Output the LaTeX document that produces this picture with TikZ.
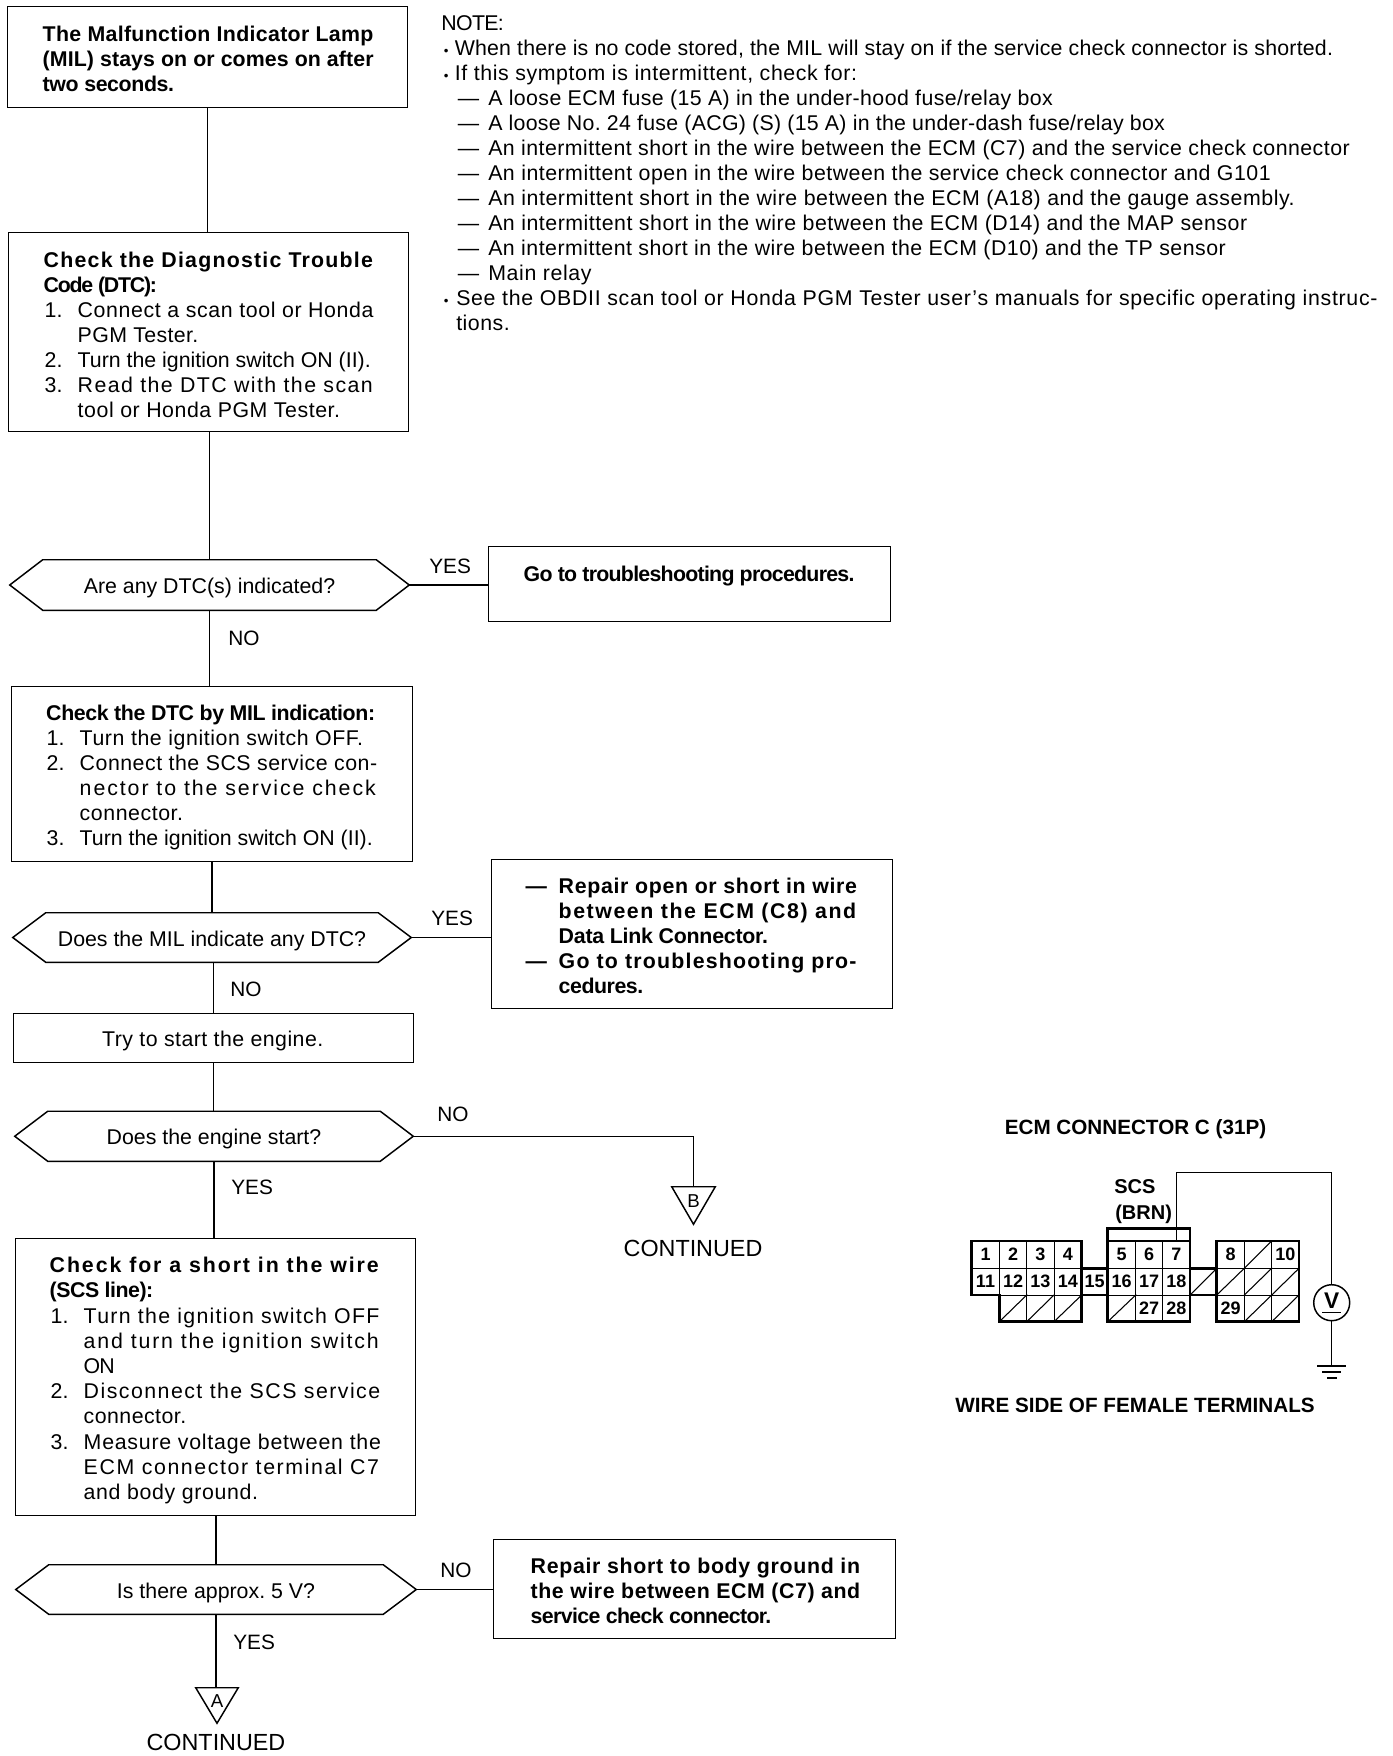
\documentclass[tikz,border=0pt]{standalone}
\usepackage{fontspec}
\setmainfont{Liberation Sans}
\usetikzlibrary{calc}
\newsavebox{\FitB}
\newcount\FitN
\newdimen\FitD
\newdimen\TOrgX
\ExplSyntaxOn
\newcommand{\SetFitN}[1]{\FitN=\tl_count:n{#1}\relax}
\ExplSyntaxOff
\newcommand{\pxd}[1]{\dimexpr #1pt*3/4\relax}
% set #2 to exactly the width #1 (px) by letter spacing
\newcommand{\FitText}[2]{%
  \sbox{\FitB}{#2}%
  \SetFitN{#2}%
  \FitD=\dimexpr(\pxd{#1}-\wd\FitB)/\FitN\relax
  \pgfmathsetmacro{\FitLS}{100*\the\FitD/16}%
  \edef\FitDo{\noexpand\addfontfeature{LetterSpace=\FitLS}}%
  {\FitDo #2}}
% plain fitted line: left, right, text
\newcommand{\Fl}[3]{\moveright\dimexpr\pxd{#1}-\TOrgX\relax\hbox{\strut\pgfmathsetmacro{\FitW}{#2-#1}\FitText{\FitW}{#3}}}
% line with number or dash: mark x, mark, left, right, text
\newcommand{\Fn}[5]{\moveright\dimexpr\pxd{#1}-\TOrgX\relax\hbox{\strut\pgfmathsetmacro{\MarkW}{#3-#1}\hbox to \pxd{\MarkW}{#2\hss}\pgfmathsetmacro{\FitW}{#4-#3}\FitText{\FitW}{#5}}}
\newcommand{\Dot}{{\fontsize{10}{10}\selectfont •}}
% box contents: origin x, width, height, first baseline below top (px), lines
\newcommand{\Inbox}[5]{\parbox[c][\pxd{#3}][t]{\pxd{#2}}{\TOrgX=\pxd{#1}\fontsize{16}{18.75}\selectfont\frenchspacing\hrule height 0pt width \hsize\vspace*{\dimexpr\pxd{#4}-13.125pt\relax}#5}}
\tikzset{
  outline/.style={draw=black,line width=1.1pt,line join=miter},
  flowbox/.style={outline,anchor=north west,inner sep=0pt},
  noteblk/.style={anchor=north west,inner sep=0pt},
  wire/.style={draw=black,line width=1.1pt},
  hexlabel/.style={inner sep=0pt,font=\fontsize{16}{18.75}\selectfont\frenchspacing,text height=12.8pt,text depth=0pt},
  trilabel/.style={inner sep=0pt,font=\fontsize{14}{18}\selectfont,text height=11pt,text depth=8pt},
  lab/.style={inner sep=0pt,anchor=base west,font=\fontsize{15.6}{18}\selectfont},
  contlab/.style={inner sep=0pt,anchor=base,font=\fontsize{17.5}{20}\selectfont},
  conttitle/.style={inner sep=0pt,anchor=base,font=\bfseries\fontsize{15.5}{18}\selectfont},
  scslab/.style={inner sep=0pt,anchor=base west,font=\bfseries\fontsize{15}{18}\selectfont},
  cell/.style={draw=black,line width=0.7pt,inner sep=0pt,font=\bfseries\fontsize{13.5}{15}\selectfont,text height=10pt,text depth=0.5pt},
  thickout/.style={draw=black,line width=1.9pt,line join=miter},
  hatch/.style={draw=black,line width=0.8pt},
  meter/.style={circle,draw=black,line width=1.1pt,inner sep=0pt,minimum size=27pt,font=\bfseries\fontsize{17}{20}\selectfont,text height=12pt,text depth=4pt},
}
\newcommand{\RHex}[6]{%
  \node[hexlabel,minimum width={(#3-#2)*0.75pt},minimum height={(#5-#4)*0.75pt}] (#1) at ({(#2+#3)/2},{(#4+#5)/2}) {#6};
  \draw[outline] (#1.west) -- ([xshift=24.75pt]#1.north west) -- ([xshift=-24.75pt]#1.north east) -- (#1.east) -- ([xshift=-24.75pt]#1.south east) -- ([xshift=24.75pt]#1.south west) -- cycle;}
\newcommand{\RTri}[5]{%
  \node[trilabel,minimum width={#4*0.75pt},minimum height={#5*0.75pt}] (#1) at (#2) {#3};
  \draw[outline] (#1.north west) -- (#1.north east) -- (#1.south) -- cycle;}
\begin{document}
\begin{tikzpicture}[x=0.75pt,y=-0.75pt]
\useasboundingbox (0,0) rectangle (1392,1756);
% ---- flow boxes
\node[flowbox] (b1) at (7,6) {\Inbox{7}{400}{101}{35}{\bfseries
  \Fl{42}{373}{The Malfunction Indicator Lamp}
  \Fl{42}{373}{(MIL) stays on or comes on after}
  \Fl{42}{173}{two seconds.}}};
\node[flowbox] (b2) at (8,232) {\Inbox{8}{400}{199}{35}{%
  {\bfseries\Fl{43}{373.5}{Check the Diagnostic Trouble}
  \Fl{43}{155}{Code (DTC):}}
  \Fn{44}{1.}{77}{373.5}{Connect a scan tool or Honda}
  \Fl{77}{198}{PGM Tester.}
  \Fn{44}{2.}{77}{370}{Turn the ignition switch ON (II).}
  \Fn{44}{3.}{77}{373.5}{Read the DTC with the scan}
  \Fl{77}{340}{tool or Honda PGM Tester.}}};
\node[flowbox] (b3) at (11,686) {\Inbox{11}{401}{175}{34}{%
  {\bfseries\Fl{45.5}{374}{Check the DTC by MIL indication:}}
  \Fn{46}{1.}{79}{363}{Turn the ignition switch OFF.}
  \Fn{46}{2.}{79}{377}{Connect the SCS service con-}
  \Fl{79}{377}{nector to the service check}
  \Fl{79}{183}{connector.}
  \Fn{46}{3.}{79}{372}{Turn the ignition switch ON (II).}}};
\node[flowbox] (b4) at (13,1013) {\Inbox{13}{400}{49}{33}{%
  \Fl{101.5}{323}{Try to start the engine.}}};
\node[flowbox] (b5) at (15,1238) {\Inbox{15}{400}{276.5}{34}{\baselineskip=18.9pt
  {\bfseries\Fl{49}{380}{Check for a short in the wire}
  \Fl{49}{152}{(SCS line):}}
  \Fn{50}{1.}{83}{380}{Turn the ignition switch OFF}
  \Fl{83}{380}{and turn the ignition switch}
  \Fl{83}{113}{ON}
  \Fn{50}{2.}{83}{381}{Disconnect the SCS service}
  \Fl{83}{186}{connector.}
  \Fn{50}{3.}{83}{381}{Measure voltage between the}
  \Fl{83}{380}{ECM connector terminal C7}
  \Fl{83}{258}{and body ground.}}};
\node[flowbox] (y1) at (488,546) {\Inbox{488}{402}{75}{35}{\bfseries
  \Fl{523}{853}{Go to troubleshooting procedures.}}};
\node[flowbox] (y2) at (491,859) {\Inbox{491}{401}{149}{34}{\bfseries
  \Fn{525}{—}{558}{857}{Repair open or short in wire}
  \Fl{558}{857}{between the ECM (C8) and}
  \Fl{558}{767}{Data Link Connector.}
  \Fn{525}{—}{558}{857}{Go to troubleshooting pro-}
  \Fl{558}{642}{cedures.}}};
\node[flowbox] (y3) at (493,1539) {\Inbox{493}{402}{99}{34}{\bfseries
  \Fl{530}{860}{Repair short to body ground in}
  \Fl{530}{860}{the wire between ECM (C7) and}
  \Fl{530}{770}{service check connector.}}};
% ---- decisions
\RHex{d1}{10}{409}{560}{610}{Are any DTC(s) indicated?}
\RHex{d2}{13}{411}{913}{962}{Does the MIL indicate any DTC?}
\RHex{d3}{15}{413}{1111.5}{1161}{Does the engine start?}
\RHex{d4}{16}{416}{1565}{1614}{Is there approx. 5 V?}
% ---- off-page marks
\RTri{tA}{217,1705.5}{A}{42}{35}
\RTri{tB}{693.5,1205.5}{B}{43}{37}
\node[contlab] (cA) at (216,1750) {CONTINUED};
\node[contlab] (cB) at (693,1256) {CONTINUED};
% ---- connectors
\draw[wire] (b1.south) -- (b1.south |- b2.north);
\draw[wire] (d1.north) -- (d1.north |- b2.south);
\draw[wire] (d1.south) -- (d1.south |- b3.north);
\draw[wire] (d2.north) -- (d2.north |- b3.south);
\draw[wire] (b4.north) -- (b4.north |- d2.south);
\draw[wire] (b4.south) -- (b4.south |- d3.north);
\draw[wire] (d3.south) -- (d3.south |- b5.north);
\draw[wire] (d4.north) -- (d4.north |- b5.south);
\draw[wire] (d4.south) -- (d4.south |- tA.north);
\draw[wire] (d1.east) -- (d1.east -| y1.west);
\draw[wire] (d2.east) -- (d2.east -| y2.west);
\draw[wire] (d4.east) -- (d4.east -| y3.west);
\draw[wire] (d3.east) -| (tB.north);
% ---- branch labels
\node[lab] (l1) at (429,573) {YES};
\node[lab] (l2) at (228,645) {NO};
\node[lab] (l3) at (431,925) {YES};
\node[lab] (l4) at (230,996) {NO};
\node[lab] (l5) at (437,1121) {NO};
\node[lab] (l6) at (231,1194) {YES};
\node[lab] (l7) at (440,1577) {NO};
\node[lab] (l8) at (233,1649) {YES};
% ---- note
\node[noteblk] (note) at (430,0) {\Inbox{430}{960}{345}{30}{%
  \Fl{441}{503}{NOTE:}
  \Fn{443.5}{\Dot}{454.5}{1333}{When there is no code stored, the MIL will stay on if the service check connector is shorted.}
  \Fn{443.5}{\Dot}{454.5}{857.4}{If this symptom is intermittent, check for:}
  \Fn{457.5}{—}{488}{1053}{A loose ECM fuse (15 A) in the under-hood fuse/relay box}
  \Fn{457.5}{—}{488}{1165}{A loose No. 24 fuse (ACG) (S) (15 A) in the under-dash fuse/relay box}
  \Fn{457.5}{—}{488}{1350}{An intermittent short in the wire between the ECM (C7) and the service check connector}
  \Fn{457.5}{—}{488}{1271}{An intermittent open in the wire between the service check connector and G101}
  \Fn{457.5}{—}{488}{1295}{An intermittent short in the wire between the ECM (A18) and the gauge assembly.}
  \Fn{457.5}{—}{488}{1247.5}{An intermittent short in the wire between the ECM (D14) and the MAP sensor}
  \Fn{457.5}{—}{488}{1226}{An intermittent short in the wire between the ECM (D10) and the TP sensor}
  \Fn{457.5}{—}{488}{592}{Main relay}
  \Fn{443.5}{\Dot}{456}{1378}{See the OBDII scan tool or Honda PGM Tester user’s manuals for specific operating instruc-}
  \Fl{456}{510}{tions.}}};
% ---- connector figure
\node[conttitle] (ct) at (1135.5,1134) {ECM CONNECTOR C (31P)};
\node[conttitle] (cw) at (1135,1412) {WIRE SIDE OF FEMALE TERMINALS};
\node[scslab] (scs) at (1114,1193) {SCS};
\node[scslab] (brn) at (1115,1219) {(BRN)};
\foreach \xa/\xb/\ya/\yb/\t in {
  971.7/999.3/1241/1268.3/1, 999.3/1026.7/1241/1268.3/2, 1026.7/1054/1241/1268.3/3, 1054/1081.7/1241/1268.3/4,
  971.7/999.3/1268.3/1295/11, 999.3/1026.7/1268.3/1295/12, 1026.7/1054/1268.3/1295/13, 1054/1081.7/1268.3/1295/14,
  1081.7/1107.7/1268.3/1295/15,
  1107.7/1135.7/1241/1268.3/5, 1135.7/1162.7/1241/1268.3/6, 1162.7/1190/1241/1268.3/7,
  1107.7/1135.7/1268.3/1295/16, 1135.7/1162.7/1268.3/1295/17, 1162.7/1190/1268.3/1295/18,
  1135.7/1162.7/1295/1321.7/27, 1162.7/1190/1295/1321.7/28,
  1216.7/1244.3/1241/1268.3/8, 1271.7/1299/1241/1268.3/10, 1216.7/1244.3/1295/1321.7/29}
  {\node[cell,minimum width={(\xb-\xa)*0.75pt},minimum height={(\yb-\ya)*0.75pt}] (c\t) at ({(\xa+\xb)/2},{(\ya+\yb)/2}) {\t};}
\foreach \xa/\xb/\ya/\yb/\n in {
  999.3/1026.7/1295/1321.7/a, 1026.7/1054/1295/1321.7/b, 1054/1081.7/1295/1321.7/c,
  1107.7/1135.7/1295/1321.7/d, 1190/1216.7/1268.3/1295/e,
  1244.3/1271.7/1241/1268.3/f, 1216.7/1244.3/1268.3/1295/g, 1244.3/1271.7/1268.3/1295/h, 1271.7/1299/1268.3/1295/i,
  1244.3/1271.7/1295/1321.7/j, 1271.7/1299/1295/1321.7/k}
  {\node[cell,minimum width={(\xb-\xa)*0.75pt},minimum height={(\yb-\ya)*0.75pt}] (h\n) at ({(\xa+\xb)/2},{(\ya+\yb)/2}) {};
   \draw[hatch] (h\n.south west) -- (h\n.north east);}
\draw[thickout] (971.7,1241) -- (1081.7,1241) -- (1081.7,1321.7) -- (999.3,1321.7) -- (999.3,1295) -- (971.7,1295) -- cycle;
\draw[thickout] (1107.7,1241) rectangle (1190,1321.7);
\draw[thickout] (1107.7,1241) -- (1107.7,1228.3) -- (1190,1228.3) -- (1190,1241);
\draw[thickout] (1216.7,1241) rectangle (1299,1321.7);
\draw[thickout] (1081.7,1268.3) -- (1107.7,1268.3) (1081.7,1295) -- (1107.7,1295);
\draw[thickout] (1190,1268.3) -- (1216.7,1268.3) (1190,1295) -- (1216.7,1295);
\node[meter] (vm) at (1331.7,1302.7) {V};
\draw[wire] (1322,1312.7) -- (1341,1312.7);
\coordinate (bend) at (1331.7,1172.7);
\coordinate (gnd) at (1331.7,1366);
\draw[wire] (c7.north) |- (bend) -- (vm.north);
\draw[wire] (vm.south) -- (gnd);
\draw[wire] (1317,1366) -- (1346,1366) (1322,1372) -- (1341,1372) (1327,1378) -- (1337,1378);
\end{tikzpicture}
\end{document}
